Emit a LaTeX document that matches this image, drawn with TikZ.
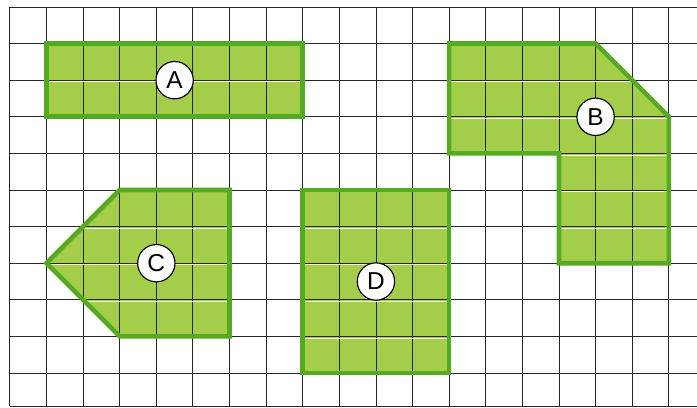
\documentclass[tikz,border=0pt]{standalone}
\usepackage{fontspec}
\setmainfont{Liberation Sans}
\usepackage{xcolor}
\usepackage{tikz}
\usetikzlibrary{calc}
\definecolor{leafgreen}{RGB}{164,206,74}
\definecolor{edgegreen}{RGB}{86,170,34}
\definecolor{paleyellow}{RGB}{246,248,214}
\tikzstyle{gridline} = [black!85, line width=0.7pt]
\tikzstyle{paleline} = [paleyellow, line width=0.8pt]
\tikzstyle{piecefill} = [fill=leafgreen]
\tikzstyle{pieceedge} = [draw=edgegreen, line width=3.6pt, line join=miter]
\tikzstyle{tag} = [circle, draw=black, fill=white, line width=0.9pt,
minimum size=1.02cm, inner sep=0pt, font=\fontsize{19}{19}\selectfont]
% outlines of the four pieces, in grid units (rows counted downwards)
\def\pieceA{(1,-1) rectangle (8,-3)}
\def\pieceB{(12,-1) -- (16,-1) -- (18,-3) -- (18,-7) -- (15,-7) -- (15,-4) -- (12,-4) -- cycle}
\def\pieceC{(3,-5) -- (6,-5) -- (6,-9) -- (3,-9) -- (1,-7) -- cycle}
\def\pieceD{(8,-5) rectangle (12,-10)}

\begin{document}
\begin{tikzpicture}
        \useasboundingbox (-0.27,0.19) rectangle (18.77,-10.93);
        \fill[white] (-0.27,0.19) rectangle (18.77,-10.93);
        % green fills first, grid on top
        \foreach \p in {\pieceA,\pieceB,\pieceC,\pieceD}
            \fill[piecefill] \p;
        \draw[gridline] (0,-10.9) grid (18.77,0);
        \draw[gridline] (0,-10.9) -- (18.77,-10.9);
        % the light rows inside the pieces
        \foreach \p in {\pieceA,\pieceB,\pieceC,\pieceD}{
            \begin{scope}
                \clip \p;
                \foreach \r in {1,...,10}
                    \draw[paleline] (0,-\r-0.045) -- (18.77,-\r-0.045);
            \end{scope}
        }
        \foreach \p in {\pieceA,\pieceB,\pieceC,\pieceD}
            \draw[pieceedge] \p;
        \node[tag] (tagA) at (4.5,-2) {A};
        \node[tag] (tagB) at (16,-3) {B};
        \node[tag] (tagC) at (4,-7) {C};
        \node[tag] (tagD) at (10,-7.5) {D};
    \end{tikzpicture}
\end{document}
